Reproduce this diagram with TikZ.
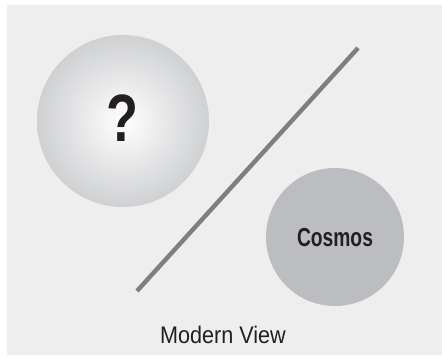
\documentclass[tikz,border=0pt]{standalone}
\usepackage{fontspec}
\setmainfont{Liberation Sans}
\definecolor{panel}{HTML}{EEEEEE}
\definecolor{edgegray}{HTML}{CFD0D2}
\definecolor{cosmosfill}{HTML}{BCBDC0}
\definecolor{linegray}{HTML}{7F7F7F}
\definecolor{ink}{HTML}{231F20}
\begin{document}
\begin{tikzpicture}[x=1pt,y=-1pt,
  lbl/.style={text=ink, inner sep=0pt}]
\useasboundingbox (0,0) rectangle (442,357);
\fill[white] (0,0) rectangle (442,357);
\fill[panel] (7,5) rectangle (442,355);
% unknown sphere
\shade[inner color=white, outer color=edgegray] (123,121) circle (86);
\node[lbl, font=\bfseries\fontsize{67}{67}\selectfont] (q) at (122,118) {\scalebox{0.78}[1]{?}};
% cosmos
\fill[cosmosfill] (335,237) circle (69);
\node[lbl, font=\bfseries\fontsize{26}{26}\selectfont] (cosmos) at (335,238) {\scalebox{0.74}[1]{Cosmos}};
% divider
\coordinate (d1) at (137,291);
\coordinate (d2) at (358,48);
\draw[linegray, line width=4.4pt] (d1) -- (d2);
% caption
\node[lbl, font=\fontsize{24}{24}\selectfont] (cap) at (223,335) {\scalebox{0.9}[1]{Modern View}};
\end{tikzpicture}
\end{document}
